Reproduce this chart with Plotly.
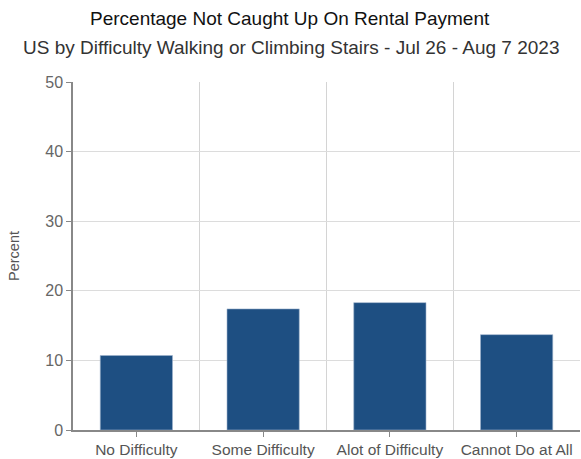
import plotly.graph_objects as go

categories = ["No Difficulty", "Some Difficulty", "Alot of Difficulty", "Cannot Do at All"]
percent = [10.7, 17.4, 18.3, 13.7]
y_ticks = [0, 10, 20, 30, 40, 50]

title_text = "Percentage Not Caught Up On Rental Payment"
subtitle_text = "US by Difficulty Walking or Climbing Stairs - Jul 26 - Aug 7 2023"

positions = list(range(len(categories)))

fig = go.Figure(
    go.Bar(
        x=positions,
        y=percent,
        width=0.57,
        marker=dict(color="#1e4f82", line=dict(color="#9fb4cc", width=0.6)),
        hoverinfo="y",
    )
)

fig.update_layout(
    width=581,
    height=459,
    margin=dict(l=73, r=1, t=82, b=29),
    paper_bgcolor="white",
    plot_bgcolor="white",
    font=dict(family="Liberation Sans, Arial, sans-serif", color="#666666"),
    showlegend=False,
    annotations=[
        dict(text=title_text, x=0.5, y=1, xref="paper", yref="paper",
             yanchor="middle", xanchor="center", showarrow=False, xshift=-37,
             yshift=64, font=dict(size=19, color="#111111")),
        dict(text=subtitle_text, x=0.5, y=1, xref="paper", yref="paper",
             yanchor="middle", xanchor="center", showarrow=False, xshift=-36,
             yshift=35, font=dict(size=19, color="#333333")),
    ],
)

fig.update_xaxes(
    range=[-0.5, len(categories) - 0.5],
    tickmode="array",
    tickvals=positions,
    ticktext=categories,
    ticks="outside",
    ticklen=5,
    tickcolor="#888888",
    tickfont=dict(size=15.5, color="#555555"),
    showgrid=False,
    showline=True,
    linecolor="#888888",
    linewidth=1.5,
    zeroline=False,
    minor=dict(tick0=0.5, dtick=1, showgrid=True, gridcolor="#d4d4d4",
               gridwidth=1, ticks=""),
)

fig.update_yaxes(
    range=[0, 50],
    tickmode="array",
    tickvals=y_ticks,
    ticks="outside",
    ticklen=5,
    tickcolor="#888888",
    tickfont=dict(size=16, color="#666666"),
    showgrid=True,
    gridcolor="#dcdcdc",
    gridwidth=1,
    showline=True,
    linecolor="#888888",
    linewidth=1.5,
    zeroline=False,
    title=dict(text="Percent", font=dict(size=14.5, color="#555555"), standoff=22),
)

fig.write_html("out.html")
